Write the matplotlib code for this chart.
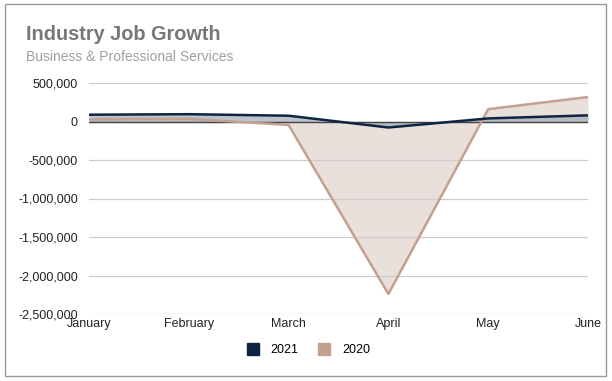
import matplotlib
matplotlib.use("Agg")
import matplotlib.pyplot as plt
from matplotlib.patches import Rectangle
from matplotlib.lines import Line2D
from matplotlib.ticker import FuncFormatter

months = ["January", "February", "March", "April", "May", "June"]
jobs_2021 = [88000, 95000, 75000, -78000, 40000, 80000]
jobs_2020 = [30000, 35000, -45000, -2240000, 160000, 318000]
yticks = [500000, 0, -500000, -1000000, -1500000, -2000000, -2500000]

plt.rcParams['font.family'] = ['Liberation Sans', 'DejaVu Sans']

fig = plt.figure(figsize=(6.12, 3.81), dpi=100)
ax = fig.add_axes([89/612, 1-314/381, (588-89)/612, (314-83)/381])

x = list(range(len(months)))
navy = "#0f2442"
tan = "#c4a08e"

ax.fill_between(x, jobs_2020, 0, color="#e9dfdb", zorder=1, linewidth=0)
ax.fill_between(x, jobs_2021, 0, color="#9eabb8", alpha=0.7, zorder=2, linewidth=0)
ax.plot(x, jobs_2020, color=tan, lw=1.8, zorder=4)
ax.plot(x, jobs_2021, color=navy, lw=1.8, zorder=5)

ax.set_xlim(0, 5)
ax.set_ylim(-2500000, 500000)
ax.set_yticks(yticks)
ax.yaxis.set_major_formatter(FuncFormatter(lambda v, p: f"{int(v):,}"))
ax.set_xticks(x)
ax.set_xticklabels(months)
ax.grid(axis='y', color="#cccccc", lw=0.9, zorder=0)
ax.axhline(0, color="#444444", lw=1.0, zorder=3)
for s in ax.spines.values():
    s.set_visible(False)
ax.tick_params(axis='both', length=0, labelsize=9, colors="#222222")
ax.tick_params(axis='y', pad=8)
ax.tick_params(axis='x', pad=3)

fig.text(26/612, 1-35/381, "Industry Job Growth", fontsize=14.3, fontweight='bold',
         color="#777777", va='center', ha='left')
fig.text(26/612, 1-57/381, "Business & Professional Services", fontsize=10,
         color="#a0a0a0", va='center', ha='left')

fig.patches.append(Rectangle((5/612, 1-376/381), 601/612, 372/381, transform=fig.transFigure,
                             fill=False, edgecolor="#999999", lw=1.0))

handles = [Line2D([], [], marker='s', ls='', color=navy, markersize=9),
           Line2D([], [], marker='s', ls='', color=tan, markersize=9)]
fig.legend(handles, ["2021", "2020"], loc='center', bbox_to_anchor=(305/612, 1-350/381),
           ncol=2, frameon=False, fontsize=9, handletextpad=0.4, columnspacing=1.1)

fig.savefig("out.png", dpi=100)
